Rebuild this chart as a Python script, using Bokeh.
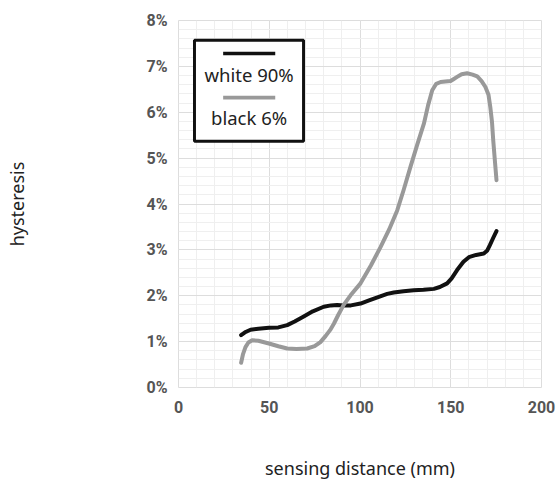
from bokeh.plotting import figure
from bokeh.models import (Range1d, FixedTicker, PrintfTickFormatter, BoxAnnotation, Label)
from bokeh.embed import file_html
from bokeh.resources import INLINE

# white 90% target
white_x = [34.5, 37, 39.7, 44, 49.8, 55, 59.9, 64, 69, 74, 80, 84, 87.4, 91, 95, 100.3, 105, 110, 115, 118.6, 124, 129.6, 135, 140.7, 144, 148, 150.5, 153.5, 157, 160, 164, 168.2, 170, 171.5, 173.5, 175.2]
white_y = [1.14, 1.21, 1.26, 1.28, 1.30, 1.31, 1.36, 1.44, 1.55, 1.66, 1.76, 1.79, 1.80, 1.79, 1.79, 1.83, 1.90, 1.97, 2.04, 2.07, 2.10, 2.12, 2.13, 2.15, 2.19, 2.27, 2.38, 2.56, 2.74, 2.84, 2.89, 2.92, 2.98, 3.10, 3.27, 3.41]
# black 6% target
black_x = [34.5, 35.5, 36.9, 38.5, 40.6, 44, 49.8, 55, 59.9, 65, 70.9, 75, 78.2, 81, 83.5, 85.6, 88, 91, 94.8, 100.3, 106, 111.3, 116, 120.5, 124, 127.8, 131.5, 135.2, 137.5, 139.8, 142, 144.4, 147, 149.9, 151.5, 153.5, 156, 159, 162, 164.6, 167, 169.1, 170.8, 171.8, 172.7, 173.4, 174.3, 175.2]
black_y = [0.54, 0.72, 0.88, 0.98, 1.03, 1.02, 0.96, 0.90, 0.85, 0.84, 0.85, 0.90, 0.99, 1.12, 1.25, 1.39, 1.58, 1.80, 2.01, 2.27, 2.66, 3.06, 3.44, 3.86, 4.30, 4.81, 5.29, 5.75, 6.15, 6.48, 6.62, 6.66, 6.67, 6.68, 6.72, 6.77, 6.83, 6.85, 6.82, 6.78, 6.68, 6.55, 6.38, 6.11, 5.80, 5.39, 4.95, 4.52]

x_ticks = [0, 50, 100, 150, 200]
y_ticks = [0, 1, 2, 3, 4, 5, 6, 7, 8]
legend_labels = ["white 90%", "black 6%"]
colors = ["#111111", "#999999"]

p = figure(width=558, height=484, output_backend="svg", toolbar_location=None,
           x_range=Range1d(0, 200), y_range=Range1d(0, 8),
           min_border_left=178, min_border_right=17, min_border_top=20, min_border_bottom=97)

p.xaxis.ticker = FixedTicker(ticks=x_ticks, minor_ticks=list(range(0, 201, 10)))
p.yaxis.ticker = FixedTicker(ticks=y_ticks, minor_ticks=[i / 5 for i in range(0, 41)])
p.yaxis.formatter = PrintfTickFormatter(format="%d%%")

for ax in (p.xaxis[0], p.yaxis[0]):
    ax.axis_line_color = None
    ax.major_tick_line_color = None
    ax.minor_tick_line_color = None
    ax.major_label_text_font = "'Liberation Sans Narrow', Roboto"
    ax.major_label_text_font_style = "bold"
    ax.major_label_text_font_size = "16px"
    ax.major_label_text_color = "#555555"
    ax.axis_label_text_font = "Noto Sans"
    ax.axis_label_text_font_style = "normal"
    ax.axis_label_text_font_size = "18px"
    ax.axis_label_text_color = "#222222"

p.xaxis.axis_label = "sensing distance (mm)"
p.yaxis.axis_label = "hysteresis"
p.xaxis.major_label_standoff = 7
p.yaxis.major_label_standoff = 5
p.xaxis.axis_label_standoff = 40
p.yaxis.axis_label_standoff = 114

p.xgrid.grid_line_color = "#dddddd"
p.ygrid.grid_line_color = "#dddddd"
p.xgrid.minor_grid_line_color = "#efefef"
p.ygrid.minor_grid_line_color = "#efefef"
p.outline_line_color = "#dddddd"
p.outline_line_width = 1

p.line(white_x, white_y, line_color=colors[0], line_width=4, line_join="round", line_cap="round")
p.line(black_x, black_y, line_color=colors[1], line_width=4, line_join="round", line_cap="round")

# legend box
p.add_layout(BoxAnnotation(left=8.8, right=68.9, bottom=5.37, top=7.57,
                           fill_color="white", fill_alpha=1, line_color="#111111",
                           line_alpha=1, line_width=3))
p.add_layout(BoxAnnotation(left=24.6, right=53.3, bottom=7.24, top=7.32,
                           fill_color=colors[0], fill_alpha=1, line_color=None))
p.add_layout(BoxAnnotation(left=24.6, right=53.3, bottom=6.28, top=6.36,
                           fill_color=colors[1], fill_alpha=1, line_color=None))
p.add_layout(Label(x=38.9, y=6.83, text=legend_labels[0], text_align="center", text_baseline="middle",
                   text_font="Noto Sans", text_font_size="18.5px", text_color="#222222"))
p.add_layout(Label(x=38.9, y=5.89, text=legend_labels[1], text_align="center", text_baseline="middle",
                   text_font="Noto Sans", text_font_size="18.5px", text_color="#222222"))

open("out.html", "w").write(file_html(p, INLINE))
